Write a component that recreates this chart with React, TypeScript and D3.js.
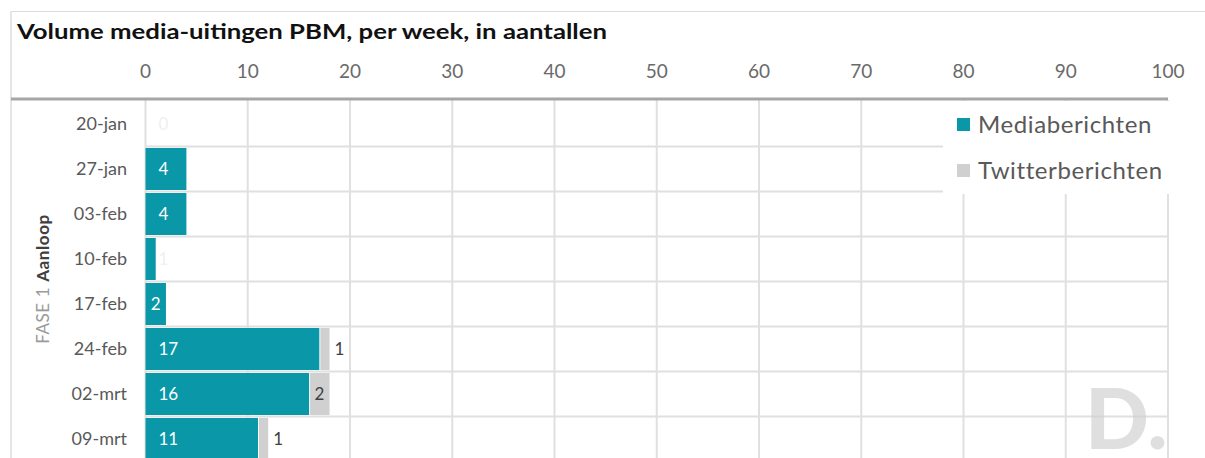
import React, { useEffect, useRef } from "react";
import * as d3 from "d3";

const weeks = ["20-jan", "27-jan", "03-feb", "10-feb", "17-feb", "24-feb", "02-mrt", "09-mrt"];
const media = [0, 4, 4, 1, 2, 17, 16, 11];
const twitter = [0, 0, 0, 0, 0, 1, 2, 1];
const xTicks = [0, 10, 20, 30, 40, 50, 60, 70, 80, 90, 100];
const seriesNames = ["Mediaberichten", "Twitterberichten"];

const width = 1205;
const height = 458;
const font = "Lato, 'Open Sans', sans-serif";
const teal = "#0a97a8";
const grey = "#d0d0d0";

export default function App() {
  const ref = useRef<SVGSVGElement>(null);

  useEffect(() => {
    const svg = d3.select(ref.current);
    svg.selectAll("*").remove();

    const x = d3.scaleLinear().domain([0, 100]).range([145.5, 1168]);
    const y = d3.scaleBand().domain(weeks).range([101.5, 101.5 + 45 * weeks.length]);

    // frame
    svg.append("line").attr("x1", 11).attr("x2", width).attr("y1", 11.5).attr("y2", 11.5)
      .style("stroke", "#dcdcdc").style("stroke-width", 1);
    svg.append("line").attr("x1", 11).attr("x2", 11).attr("y1", 11.5).attr("y2", height)
      .style("stroke", "#dcdcdc").style("stroke-width", 1.5);

    // title
    svg.append("text")
      .attr("x", 17).attr("y", 39)
      .attr("textLength", 590).attr("lengthAdjust", "spacingAndGlyphs")
      .style("font-family", font).style("font-size", "21px").style("font-weight", "bold")
      .style("fill", "#111")
      .text("Volume media-uitingen PBM,  per week, in aantallen");

    // tick labels
    svg.selectAll("text.tick").data(xTicks).enter().append("text")
      .attr("class", "tick")
      .attr("x", d => x(d)).attr("y", 78)
      .attr("text-anchor", "middle")
      .style("font-family", font).style("font-size", "19px").style("fill", "#6a6a6a")
      .text(d => d);

    // grid
    svg.selectAll("line.vgrid").data(xTicks).enter().append("line")
      .attr("class", "vgrid")
      .attr("x1", d => x(d)).attr("x2", d => x(d))
      .attr("y1", 100).attr("y2", height)
      .style("stroke", "#e0e0e0").style("stroke-width", 2);
    svg.selectAll("line.hgrid").data(weeks.slice(1)).enter().append("line")
      .attr("class", "hgrid")
      .attr("x1", x(0)).attr("x2", x(100))
      .attr("y1", d => y(d)!).attr("y2", d => y(d)!)
      .style("stroke", "#e0e0e0").style("stroke-width", 2);

    // axis line
    svg.append("line").attr("x1", 11).attr("x2", x(100)).attr("y1", 99).attr("y2", 99)
      .style("stroke", "#a6a6a6").style("stroke-width", 3);

    // category labels
    svg.selectAll("text.cat").data(weeks).enter().append("text")
      .attr("class", "cat")
      .attr("x", 127).attr("y", d => y(d)! + y.bandwidth() / 2 + 6)
      .attr("text-anchor", "end")
      .style("font-family", font).style("font-size", "18px").style("fill", "#595959")
      .text(d => d);

    // phase label
    const phase = svg.append("text")
      .attr("transform", "translate(49,279) rotate(-90)")
      .attr("text-anchor", "middle")
      .style("font-family", font).style("font-size", "17px").style("letter-spacing", "0.6px");
    phase.append("tspan").style("fill", "#9a9a9a").text("FASE 1 ");
    phase.append("tspan").style("fill", "#404040").style("font-weight", "bold").text("Aanloop");

    const rows = weeks.map((w, i) => ({ w, m: media[i], t: twitter[i] }));

    // bars
    svg.selectAll("rect.media").data(rows).enter().append("rect")
      .attr("class", "media")
      .attr("x", x(0)).attr("y", d => y(d.w)! + 1.5)
      .attr("width", d => x(d.m) - x(0)).attr("height", y.bandwidth() - 3)
      .style("fill", teal);
    svg.selectAll("rect.tw").data(rows.filter(d => d.t > 0)).enter().append("rect")
      .attr("class", "tw")
      .attr("x", d => x(d.m) + 1).attr("y", d => y(d.w)! + 1.5)
      .attr("width", d => x(d.m + d.t) - x(d.m) - 1).attr("height", y.bandwidth() - 3)
      .style("fill", grey);

    // labels
    const narrow = (d: { m: number }) => {
      const w = x(d.m) - x(0);
      return w > 15 && w < 30;
    };
    svg.selectAll("text.ml").data(rows).enter().append("text")
      .attr("class", "ml")
      .attr("x", d => (narrow(d) ? (x(0) + x(d.m)) / 2 : x(0) + 13))
      .attr("text-anchor", d => (narrow(d) ? "middle" : "start"))
      .attr("y", d => y(d.w)! + y.bandwidth() / 2 + 6)
      .style("font-family", font).style("font-size", "17px")
      .style("fill", d => (d.m > 1 ? "#ffffff" : "#f0f0f0"))
      .text(d => d.m);
    svg.selectAll("text.tl").data(rows.filter(d => d.t > 0)).enter().append("text")
      .attr("class", "tl")
      .attr("x", d => {
        const w = x(d.m + d.t) - x(d.m);
        return w > 15 ? x(d.m) + w / 2 : x(d.m + d.t) + 5;
      })
      .attr("text-anchor", d => (x(d.m + d.t) - x(d.m) > 15 ? "middle" : "start"))
      .attr("y", d => y(d.w)! + y.bandwidth() / 2 + 6)
      .style("font-family", font).style("font-size", "17px").style("fill", "#404040")
      .text(d => d.t);

    // legend
    svg.append("rect").attr("x", 943).attr("y", 101).attr("width", 232).attr("height", 93)
      .style("fill", "#fff");
    const lg = svg.selectAll("g.lg").data(seriesNames).enter().append("g")
      .attr("class", "lg")
      .attr("transform", (d, i) => `translate(957,${118 + i * 46})`);
    lg.append("rect").attr("width", 13).attr("height", 13)
      .style("fill", (d, i) => (i === 0 ? teal : grey));
    lg.append("text").attr("x", 21).attr("y", 15)
      .style("font-family", font).style("font-size", "24px").style("letter-spacing", "0.6px")
      .style("fill", "#595959")
      .text(d => d);

    // watermark
    svg.append("text").attr("x", 1085).attr("y", 449)
      .style("font-family", font).style("font-size", "84px").style("font-weight", "900")
      .style("fill", "#cfcfcf").style("opacity", 0.65)
      .text("D.");
  }, []);

  return (
    <div style={{ position: "absolute", left: 0, top: 0 }}>
      <svg ref={ref} width={width} height={height} style={{ display: "block", background: "#fff" }} />
    </div>
  );
}
